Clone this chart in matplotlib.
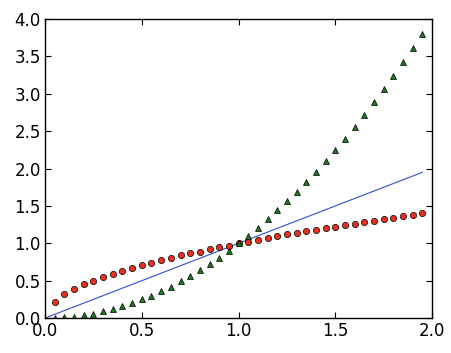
import matplotlib
matplotlib.use("Agg")
import matplotlib.pyplot as plt

# x positions of the markers (step 0.05)
t = [0.05, 0.10, 0.15, 0.20, 0.25, 0.30, 0.35, 0.40, 0.45, 0.50,
     0.55, 0.60, 0.65, 0.70, 0.75, 0.80, 0.85, 0.90, 0.95, 1.00,
     1.05, 1.10, 1.15, 1.20, 1.25, 1.30, 1.35, 1.40, 1.45, 1.50,
     1.55, 1.60, 1.65, 1.70, 1.75, 1.80, 1.85, 1.90, 1.95]

# red circles
circles = [0.22, 0.32, 0.39, 0.45, 0.50, 0.55, 0.59, 0.63, 0.67, 0.71,
           0.74, 0.77, 0.81, 0.84, 0.87, 0.89, 0.92, 0.95, 0.97, 1.00,
           1.02, 1.05, 1.07, 1.10, 1.12, 1.14, 1.16, 1.18, 1.20, 1.22,
           1.24, 1.26, 1.28, 1.30, 1.32, 1.34, 1.36, 1.38, 1.40]

# green triangles
triangles = [0.00, 0.01, 0.02, 0.04, 0.06, 0.09, 0.12, 0.16, 0.20, 0.25,
             0.30, 0.36, 0.42, 0.49, 0.56, 0.64, 0.72, 0.81, 0.90, 1.00,
             1.10, 1.21, 1.32, 1.44, 1.56, 1.69, 1.82, 1.96, 2.10, 2.25,
             2.40, 2.56, 2.72, 2.89, 3.06, 3.24, 3.42, 3.61, 3.80]

# blue line
line_x = [0.0, 1.95]
line_y = [0.0, 1.95]

fig = plt.figure(figsize=(4.52, 3.53), dpi=100)
ax = fig.add_axes([0.0996, 0.099, 0.8564, 0.847])

ax.plot(line_x, line_y, color="#3050d0", lw=0.8)
ax.plot(t, circles, "o", color="#e8301c", mec="black", mew=0.5, ms=4.5)
ax.plot(t, triangles, "^", color="#1a7a1a", mec="black", mew=0.5, ms=5)

ax.set_xlim(0, 2)
ax.set_ylim(0, 4)
ax.set_xticks([0.0, 0.5, 1.0, 1.5, 2.0])
ax.set_yticks([0.0, 0.5, 1.0, 1.5, 2.0, 2.5, 3.0, 3.5, 4.0])
ax.tick_params(direction="in", top=True, right=True, labelsize=12, length=4, pad=3)
for s in ax.spines.values():
    s.set_linewidth(1.0)

fig.savefig("out.png", dpi=100)
